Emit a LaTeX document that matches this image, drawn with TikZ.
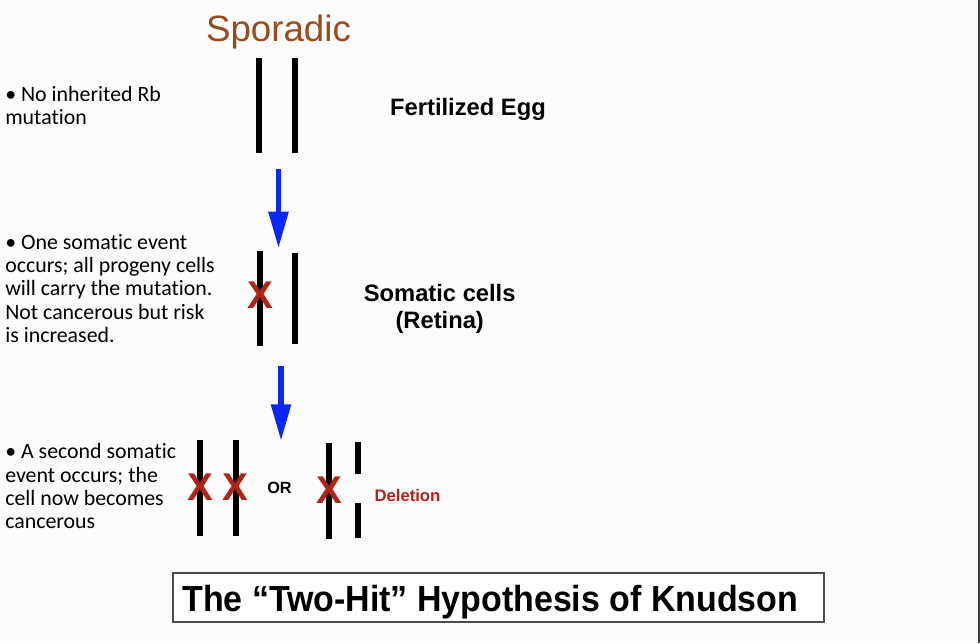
\documentclass[tikz,border=0pt]{standalone}
\usepackage{fontspec}
\setmainfont{Liberation Sans}
\newfontfamily\calib[Ligatures=NoCommon]{Carlito}
\usetikzlibrary{arrows.meta}
\definecolor{bg}{HTML}{FCFCFC}
\definecolor{sporbrown}{HTML}{9A4A1C}
\definecolor{hitred}{HTML}{B02418}
\definecolor{arrblue}{HTML}{0A28F5}
\tikzset{
  chrom/.style={line width=4.5pt, black},
  hit/.style={text=hitred, font=\bfseries\fontsize{29}{29}\selectfont, inner sep=0pt},
  note/.style={font=\calib\fontsize{16.4}{17.5}\selectfont, align=left, anchor=north west, inner sep=0pt},
  lbl/.style={font=\bfseries\fontsize{17.8}{20}\selectfont, align=center, inner sep=0pt},
  flow/.style={-{Triangle[width=14.25pt,length=27.5pt]}, line width=4.2pt, arrblue}
}
\begin{document}
\begin{tikzpicture}[x=0.75pt,y=-0.75pt]
\fill[bg] (0,0) rectangle (980,643);
\useasboundingbox (0,0) rectangle (980,643);
\draw[line width=1.5pt, black!75] (979,0) -- (979,643);

\node[text=sporbrown, font=\fontsize{27.5}{27.5}\selectfont, inner sep=0pt, anchor=base] (spor) at (278.5,41) {Sporadic};

% fertilized egg
\coordinate (e1t) at (259,58); \coordinate (e1b) at (259,153);
\coordinate (e2t) at (295,58); \coordinate (e2b) at (295,153);
\draw[chrom] (e1t) -- (e1b);
\draw[chrom] (e2t) -- (e2b);
\node[lbl, anchor=base] (egg) at (468,115) {Fertilized Egg};

% arrow 1
\coordinate (a1s) at (278.5,169); \coordinate (a1e) at (278.5,248.3);
\draw[flow] (a1s) -- (a1e);

% somatic cells
\coordinate (s1t) at (260.3,250.7); \coordinate (s1b) at (260.3,346);
\coordinate (s2t) at (295,252.7); \coordinate (s2b) at (295,343.7);
\draw[chrom] (s1t) -- (s1b);
\draw[chrom] (s2t) -- (s2b);
\node[hit] (x1) at (260.5,294.7) {X};
\node[lbl, anchor=north] (som) at (439.7,284) {Somatic cells\\(Retina)};

% arrow 2
\coordinate (a2s) at (281,366); \coordinate (a2e) at (281,441);
\draw[flow] (a2s) -- (a2e);

% second hit
\coordinate (c1t) at (199.7,440); \coordinate (c1b) at (199.7,536);
\coordinate (c2t) at (236,440); \coordinate (c2b) at (236,536);
\coordinate (c3t) at (328.8,443.3); \coordinate (c3b) at (328.8,539.3);
\coordinate (c4t) at (357.8,442.3); \coordinate (c4m) at (357.8,474.3);
\coordinate (c4n) at (357.8,503.3); \coordinate (c4b) at (357.8,538.3);
\draw[chrom] (c1t) -- (c1b);
\draw[chrom] (c2t) -- (c2b);
\draw[chrom] (c3t) -- (c3b);
\draw[chrom] (c4t) -- (c4m);
\draw[chrom] (c4n) -- (c4b);
\node[hit] (x2) at (200.5,486.7) {X};
\node[hit] (x3) at (235,486.7) {X};
\node[hit] (x4) at (329.5,490) {X};
\node[font=\bfseries\fontsize{12.2}{12.2}\selectfont, inner sep=0pt, anchor=base] (or) at (279.5,493.3) {OR};
\node[text=hitred, font=\bfseries\fontsize{12.5}{12.5}\selectfont, inner sep=0pt, anchor=base west] (del) at (374.3,501) {Deletion};

% notes
\node[note] (n1) at (5,86) {• No inherited Rb\\mutation};
\node[note] (n2) at (5,234) {• One somatic event\\occurs; all progeny cells\\will carry the mutation.\\Not cancerous but risk\\is increased.};
\node[note] (n3) at (5,443.5) {• A second somatic\\event occurs; the\\cell now becomes\\cancerous};

% title
\draw[line width=0.9pt, black!70, fill=white] (173,573) rectangle (824,622);
\node[inner sep=0pt, anchor=base west] (title) at (182,611.7) {\resizebox{462pt}{\height}{\bfseries\fontsize{27.2}{27.2}\selectfont The “Two-Hit” Hypothesis of Knudson}};
\end{tikzpicture}
\end{document}
